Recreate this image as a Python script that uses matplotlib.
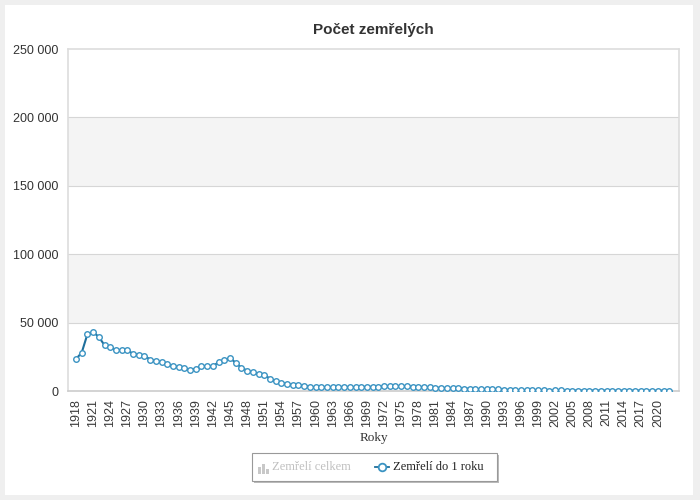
import matplotlib
matplotlib.use('Agg')
import matplotlib.pyplot as plt
import matplotlib.patches as mpatches
from matplotlib.lines import Line2D
from matplotlib.ticker import FuncFormatter

# rok a pocet zemrelych do 1 roku
years = list(range(1918, 2023))
infant_deaths = [
    23400, 28000, 41500, 43200, 39500, 33500, 31800, 30000, 30000, 29800,   # 1918-1927
    27200, 26400, 25800, 23000, 21800, 21000, 19500, 18300, 17300, 16600,   # 1928-1937
    15600, 16300, 18200, 18200, 18200, 21000, 22300, 24300, 20500, 17000,   # 1938-1947
    14900, 13600, 12700, 11800, 9000, 7200, 5900, 5100, 4600, 4100,         # 1948-1957
    3700, 3100, 2800, 2700, 2800, 2800, 2900, 3000, 2900, 2900,             # 1958-1967
    2900, 3100, 3000, 3100, 3300, 3500, 3600, 3500, 3400, 3200,             # 1968-1977
    3100, 2800, 2600, 2400, 2300, 2100, 2000, 1900, 1800, 1700,             # 1978-1987
    1500, 1400, 1400, 1300, 1200, 1000, 800, 700, 540, 530,                 # 1988-1997
    470, 410, 370, 360, 380, 370, 360, 340, 350, 360,                       # 1998-2007
    330, 340, 310, 300, 280, 270, 270, 280, 310, 300,                       # 2008-2017
    300, 230, 250, 250, 230,                                                # 2018-2022
]
tick_years = list(range(1918, 2021, 3))
y_ticks = [0, 50000, 100000, 150000, 200000, 250000]

fig = plt.figure(figsize=(7, 5), dpi=100, facecolor='#efefef')
# bily panel pod vsim
fig.patches.append(mpatches.Rectangle((5/700, 5/500), 688/700, 490/500, transform=fig.transFigure,
                                      facecolor='white', edgecolor='none', zorder=-5))

ax = fig.add_axes([68/700, 1 - 391/500, 611/700, 342/500])
ax.set_zorder(2)
ax.set_facecolor('white')
for lo, hi in [(50000, 100000), (150000, 200000)]:
    ax.axhspan(lo, hi, color='#f4f4f4', zorder=0, lw=0)
for yv in y_ticks[1:-1]:
    ax.axhline(yv, color='#d6d6d6', lw=0.8, zorder=1)

ax.plot(years, infant_deaths, color='#1f6f9c', lw=1.5, marker='o', markersize=4,
        markerfacecolor='white', markeredgecolor='#3a93c2', markeredgewidth=1.0, zorder=3)

ax.set_xlim(1916.6, 2023.7)
ax.set_ylim(0, 250000)
ax.set_yticks(y_ticks)
ax.yaxis.set_major_formatter(FuncFormatter(lambda v, p: '0' if v == 0 else f'{int(v):,}'.replace(',', ' ')))
ax.set_xticks(tick_years)
ax.set_xticklabels([str(y) for y in tick_years], rotation=90, fontsize=9,
                   family='Liberation Sans', color='#3a3a3a')
for lab in ax.get_yticklabels():
    lab.set_fontsize(9)
    lab.set_family('Liberation Sans')
    lab.set_color('#333333')
ax.tick_params(axis='both', length=0)
ax.tick_params(axis='y', pad=7)
ax.tick_params(axis='x', pad=6)
for s in ax.spines.values():
    s.set_color('#dddddd')
    s.set_linewidth(1.2)
ax.spines['bottom'].set_color('#cccccc')

ax.set_xlabel('Roky', family='Liberation Serif', fontsize=9.5, color='#333333', labelpad=3)
fig.text(373/700, 1 - 30/500, 'Počet zemřelých', ha='center', va='center',
         family='Liberation Sans', fontsize=11, fontweight='bold', color='#333333')

# legenda
lx, ly, lw_, lh = 252/700, 1 - 481/500, 245/700, 28/500
fig.patches.append(mpatches.Rectangle((lx + 2/700, ly - 2/500), lw_, lh, transform=fig.transFigure,
                                      facecolor='#bbbbbb', edgecolor='none', zorder=1))
fig.patches.append(mpatches.Rectangle((lx, ly), lw_, lh, transform=fig.transFigure,
                                      facecolor='white', edgecolor='#999999', lw=0.8, zorder=2))
for i, h in enumerate([0.45, 0.65, 0.3]):
    fig.patches.append(mpatches.Rectangle(((258 + i*4)/700, 1 - 474/500), 3/700, h * 16/500,
                                          transform=fig.transFigure, facecolor='#c8c8c8',
                                          edgecolor='none', zorder=3))
fig.text(272/700, 1 - 467/500, 'Zemřelí celkem', ha='left', va='center',
         family='Liberation Serif', fontsize=9, color='#c0c0c0', zorder=3)
fig.lines.append(Line2D([375/700, 389/700], [1 - 467/500, 1 - 467/500], transform=fig.transFigure,
                        color='#1f6f9c', lw=1.3, zorder=3))
fig.lines.append(Line2D([382/700], [1 - 467/500], transform=fig.transFigure, marker='o', markersize=5.5,
                        markerfacecolor='white', markeredgecolor='#3a93c2', markeredgewidth=1.3, zorder=4))
fig.text(393/700, 1 - 467/500, 'Zemřelí do 1 roku', ha='left', va='center',
         family='Liberation Serif', fontsize=9, color='#222222', zorder=3)

fig.savefig('out.png', dpi=100, facecolor=fig.get_facecolor())
